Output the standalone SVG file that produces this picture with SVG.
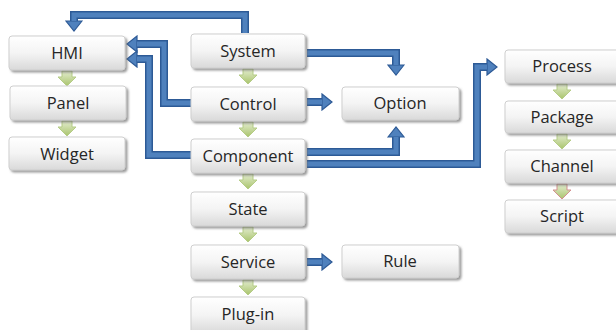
<svg xmlns="http://www.w3.org/2000/svg" width="616" height="330" viewBox="0 0 616 330">
<defs>
<linearGradient id="boxg" x1="0" y1="0" x2="0" y2="1">
<stop offset="0" stop-color="#ffffff"/>
<stop offset="0.5" stop-color="#f4f4f4"/>
<stop offset="1" stop-color="#d9d9d9"/>
</linearGradient>
<linearGradient id="greeng" x1="0" y1="0" x2="0" y2="1">
<stop offset="0" stop-color="#e4edd0"/>
<stop offset="1" stop-color="#a9c46c"/>
</linearGradient>
<filter id="sh" x="-10%" y="-10%" width="130%" height="140%">
<feDropShadow dx="2" dy="2" stdDeviation="1.3" flood-color="#666" flood-opacity="0.65"/>
</filter>
<marker id="ah" markerUnits="userSpaceOnUse" markerWidth="12" markerHeight="18" viewBox="0 0 12 18" refX="1" refY="9" orient="auto">
<polygon points="1,1 11,9 1,17" fill="#4f81bd" stroke="#2d5a96" stroke-width="1.2"/>
</marker>
<path id="garrow" d="M-5,0 H5 V6 H9 L0,15 L-9,6 H-5 Z"/>
</defs>
<style>
.box rect{fill:url(#boxg);stroke:#cfcfcf;stroke-width:1;filter:url(#sh)}
.box text{font-family:"Open Sans","Liberation Sans",sans-serif;font-size:16.5px;fill:#262626;text-anchor:middle}
.c .o{fill:none;stroke:#2d5a96;stroke-width:8;stroke-linejoin:miter}
.c .i{fill:none;stroke:#4f81bd;stroke-width:5;stroke-linejoin:miter}
.g use{fill:url(#greeng);stroke:#b5cc86;stroke-width:1}
.g use.red{stroke:#d48f8f}
</style>

<g id="connectors" class="c">
<path class="o" d="M245,33 V15 H74 V21" marker-end="url(#ah)"/>
<path class="i" d="M245,33 V15 H74 V21"/>
<path class="o" d="M191,103 H164 V44 H137" marker-end="url(#ah)"/>
<path class="i" d="M191,103 H164 V44 H137"/>
<path class="o" d="M191,155 H149 V59 H137" marker-end="url(#ah)"/>
<path class="i" d="M191,155 H149 V59 H137"/>
<path class="o" d="M307,53 H396 V65" marker-end="url(#ah)"/>
<path class="i" d="M307,53 H396 V65"/>
<path class="o" d="M307,102 H322" marker-end="url(#ah)"/>
<path class="i" d="M307,102 H322"/>
<path class="o" d="M307,152 H396 V137" marker-end="url(#ah)"/>
<path class="i" d="M307,152 H396 V137"/>
<path class="o" d="M307,164 H477 V67 H487" marker-end="url(#ah)"/>
<path class="i" d="M307,164 H477 V67 H487"/>
<path class="o" d="M307,262 H322" marker-end="url(#ah)"/>
<path class="i" d="M307,262 H322"/>
</g>

<g id="green-arrows" class="g">
<use href="#garrow" x="67" y="71"/>
<use href="#garrow" x="67" y="121"/>
<use href="#garrow" x="248" y="69"/>
<use href="#garrow" x="248" y="122"/>
<use href="#garrow" x="248" y="174"/>
<use href="#garrow" x="248" y="227"/>
<use href="#garrow" x="248" y="280"/>
<use href="#garrow" x="562" y="84"/>
<use href="#garrow" x="562" y="134"/>
<use class="red" href="#garrow" x="562" y="184"/>
</g>

<g id="hmi" class="box"><rect x="9" y="36" width="116" height="34" rx="3"/><text x="67" y="59">HMI</text></g>
<g id="panel" class="box"><rect x="10" y="86" width="116" height="34" rx="3"/><text x="68" y="109">Panel</text></g>
<g id="widget" class="box"><rect x="9" y="137" width="116" height="33" rx="3"/><text x="67" y="160">Widget</text></g>
<g id="system" class="box"><rect x="191" y="34" width="114" height="34" rx="3"/><text x="248" y="57">System</text></g>
<g id="control" class="box"><rect x="191" y="87" width="114" height="34" rx="3"/><text x="248" y="110">Control</text></g>
<g id="component" class="box"><rect x="191" y="139" width="114" height="34" rx="3"/><text x="248" y="162">Component</text></g>
<g id="state" class="box"><rect x="191" y="192" width="114" height="34" rx="3"/><text x="248" y="215">State</text></g>
<g id="service" class="box"><rect x="191" y="245" width="114" height="34" rx="3"/><text x="248" y="268">Service</text></g>
<g id="plugin" class="box"><rect x="191" y="297" width="114" height="36" rx="3"/><text x="248" y="320">Plug-in</text></g>
<g id="option" class="box"><rect x="342" y="87" width="117" height="33" rx="3"/><text x="400" y="109">Option</text></g>
<g id="rule" class="box"><rect x="342" y="245" width="117" height="33" rx="3"/><text x="400" y="267">Rule</text></g>
<g id="process" class="box"><rect x="505" y="50" width="115" height="33" rx="3"/><text x="562" y="72">Process</text></g>
<g id="package" class="box"><rect x="505" y="101" width="115" height="32" rx="3"/><text x="562" y="123">Package</text></g>
<g id="channel" class="box"><rect x="505" y="150" width="115" height="33" rx="3"/><text x="562" y="172">Channel</text></g>
<g id="script" class="box"><rect x="505" y="200" width="115" height="33" rx="3"/><text x="562" y="222">Script</text></g>
</svg>
